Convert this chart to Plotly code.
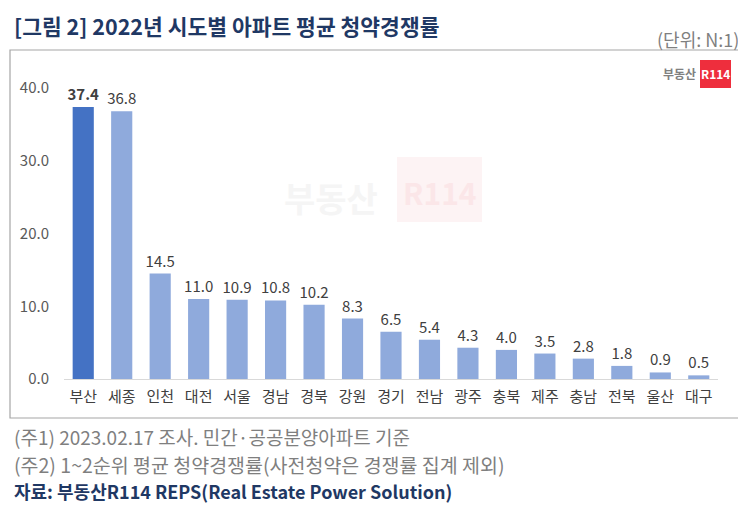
import plotly.graph_objects as go

regions = ['부산', '세종', '인천', '대전', '서울', '경남', '경북', '강원', '경기',
           '전남', '광주', '충북', '제주', '충남', '전북', '울산', '대구']
rates = [37.4, 36.8, 14.5, 11.0, 10.9, 10.8, 10.2, 8.3, 6.5,
         5.4, 4.3, 4.0, 3.5, 2.8, 1.8, 0.9, 0.5]
y_ticks = [0, 10, 20, 30, 40]

FONT = 'Noto Sans CJK KR'
W, H = 746, 515
PAGE_OFF = 8  # default body margin of the html page
L, R, T, B = 64, 718, 88, 379  # plot area in page pixels


def px(x):
    return (x - L) / (R - L)


def py(y):
    return (B - y) / (B - T)


bar_colors = ['#4472C4' if i == 0 else '#8FAADC' for i in range(len(regions))]
labels = ['<b>%.1f</b>' % v if i == 0 else '%.1f' % v for i, v in enumerate(rates)]

fig = go.Figure()
fig.add_trace(go.Bar(
    x=regions,
    y=rates,
    marker=dict(color=bar_colors, line=dict(width=0)),
    text=labels,
    textposition='outside',
    constraintext='none',
    textfont=dict(family=FONT, size=15, color='#404040'),
    cliponaxis=False,
    width=0.55,
))

annotations = [
    dict(text='<b>[그림 2] 2022년 시도별 아파트 평균 청약경쟁률</b>',
         x=px(12), y=py(25), xanchor='left', yanchor='middle',
         font=dict(family=FONT, size=21.5, color='#1F3864')),
    dict(text='(단위: N:1)', x=px(741), y=py(39), xanchor='right', yanchor='middle',
         font=dict(family=FONT, size=18, color='#7F7F7F')),
    dict(text='(주1) 2023.02.17 조사. 민간·공공분양아파트 기준',
         x=px(12), y=py(436), xanchor='left', yanchor='middle',
         font=dict(family=FONT, size=19, color='#7F7F7F')),
    dict(text='(주2) 1~2순위 평균 청약경쟁률(사전청약은 경쟁률 집계 제외)',
         x=px(12), y=py(464), xanchor='left', yanchor='middle',
         font=dict(family=FONT, size=19.5, color='#7F7F7F')),
    dict(text='<b>자료: 부동산R114 REPS(Real Estate Power Solution)</b>',
         x=px(12), y=py(491), xanchor='left', yanchor='middle',
         font=dict(family=FONT, size=18, color='#1F3864')),
    # logo top right
    dict(text='<b>부동산</b>', x=px(698), y=py(74), xanchor='right', yanchor='middle',
         font=dict(family=FONT, size=12, color='#808080')),
    dict(text='<b>R114</b>', x=px(715.5), y=py(74), xanchor='center', yanchor='middle',
         font=dict(family=FONT, size=12, color='#FFFFFF')),
    # watermark
    dict(text='<b>부동산</b>', x=px(331), y=py(197), xanchor='center', yanchor='middle',
         font=dict(family=FONT, size=34, color='#F5F5F5')),
    dict(text='<b>R114</b>', x=px(440), y=py(192), xanchor='center', yanchor='middle',
         font=dict(family=FONT, size=30, color='#FBE6E8')),
]
for a in annotations:
    a.update(xref='paper', yref='paper', showarrow=False)

shapes = [
    # frame
    dict(type='rect', xref='paper', yref='paper',
         x0=px(10), x1=px(745), y0=py(418), y1=py(50),
         line=dict(color='#A6A6A6', width=1.2), fillcolor='rgba(0,0,0,0)', layer='below'),
    # logo box
    dict(type='rect', xref='paper', yref='paper',
         x0=px(700), x1=px(731), y0=py(88), y1=py(60),
         line=dict(width=0), fillcolor='#EE2E3D', layer='above'),
    # watermark box
    dict(type='rect', xref='paper', yref='paper',
         x0=px(397), x1=px(482), y0=py(222), y1=py(157),
         line=dict(width=0), fillcolor='#FDF3F4', layer='below'),
]

fig.update_layout(
    width=W - PAGE_OFF,
    height=H - PAGE_OFF,
    margin=dict(l=L - PAGE_OFF, r=W - R, t=T - PAGE_OFF, b=H - B),
    paper_bgcolor='white',
    plot_bgcolor='rgba(0,0,0,0)',
    showlegend=False,
    annotations=annotations,
    shapes=shapes,
    font=dict(family=FONT, color='#595959'),
)
fig.update_xaxes(
    showgrid=False,
    showline=True,
    linecolor='#D9D9D9',
    linewidth=1.2,
    ticks='',
    tickfont=dict(family=FONT, size=15, color='#404040'),
    ticklabelstandoff=4,
)
fig.update_yaxes(
    range=[0, 40],
    tickvals=y_ticks,
    tickformat='.1f',
    showgrid=False,
    zeroline=False,
    showline=False,
    ticks='',
    tickfont=dict(family=FONT, size=15, color='#595959'),
    ticklabelstandoff=14,
)

fig.write_html('out.html')
